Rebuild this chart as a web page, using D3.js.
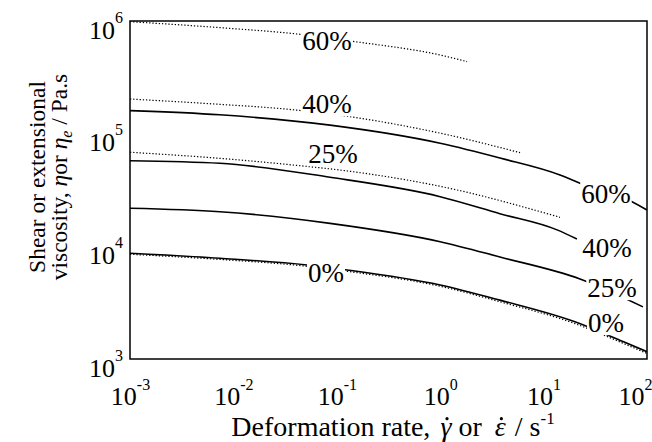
<!DOCTYPE html>
<html>
<head>
<meta charset="utf-8">
<script src="https://cdn.jsdelivr.net/npm/d3@7"></script>
<style>
  body { margin: 0; background: #fff; }
</style>
</head>
<body>
<svg id="chart"></svg>
<script>
// [deformation rate (1/s), viscosity (Pa.s)]
// solid = shear, dotted = extensional
const shear60 = [[1e-3, 1.6e5], [7.4e-3, 1.47e5], [0.086, 1.19e5], [1, 8.22e4], [3.78, 6.08e4], [14.4, 4.3e4], [22.5, 3.63e4], [71.6, 2.49e4], [100, 2.1e4]];
const shear40 = [[1e-3, 5.75e4], [7.4e-3, 5.46e4], [0.086, 4.1e4], [1, 2.76e4], [3.78, 1.95e4], [13.5, 1.4e4], [21, 1.16e4]];
const shear25 = [[1e-3, 2.18e4], [7.4e-3, 2.03e4], [0.086, 1.6e4], [1, 1.1e4], [3.78, 8.04e3], [22.5, 5.13e3], [91.4, 2.9e3]];
const shear0 = [[1e-3, 8.67e3], [7.4e-3, 7.83e3], [0.0515, 6.83e3], [0.126, 6.17e3], [1, 4.54e3], [3.78, 3.33e3], [20.1, 2.14e3], [58.6, 1.43e3], [100, 1.16e3]];

const ext60 = [[1e-3, 9.86e5], [7.4e-3, 8.73e5], [0.044, 7.62e5], [0.15, 6.56e5], [1, 4.99e5], [1.82, 4.36e5]];
const ext40 = [[1e-3, 2.03e5], [7.4e-3, 1.82e5], [0.033, 1.65e5], [0.144, 1.4e5], [1, 1.01e5], [5.92, 6.78e4]];
const ext25 = [[1e-3, 6.84e4], [7.4e-3, 6.04e4], [0.0377, 5.27e4], [0.128, 4.66e4], [1, 3.41e4], [14.4, 1.81e4]];
const ext0 = [[1e-3, 8.5e3], [7.4e-3, 7.65e3], [0.0515, 6.65e3], [0.126, 6.0e3], [1, 4.42e3], [3.78, 3.22e3], [20.1, 2.06e3], [58.6, 1.38e3], [100, 1.12e3]];

// contour-style labels, placed at [rate, viscosity]
const labelText = ["60%", "40%", "25%", "0%", "60%", "40%", "25%", "0%"];
const labelRate = [0.0804, 0.0804, 0.0918, 0.0787, 40.1, 41.0, 45.9, 40.1];
const labelVisc = [6.64e5, 1.83e5, 6.61e4, 5.8e3, 2.94e4, 9.77e3, 4.27e3, 2.09e3];

const xTickExp = [-3, -2, -1, 0, 1, 2];
const yTickExp = [3, 4, 5, 6];

const width = 652;
const height = 442;
const margin = { top: 21, right: 5, bottom: 83, left: 130 };
const font = "'Liberation Serif', 'Times New Roman', serif";

const svg = d3.select("#chart").attr("width", width).attr("height", height);

const x = d3.scaleLog().domain([1e-3, 1e2]).range([margin.left, width - margin.right]);
const y = d3.scaleLog().domain([1e3, 1e6]).range([height - margin.bottom, margin.top]);

svg.append("defs").append("clipPath").attr("id", "plot-clip")
  .append("rect")
  .attr("x", margin.left).attr("y", margin.top)
  .attr("width", x.range()[1] - x.range()[0])
  .attr("height", y.range()[0] - y.range()[1]);

const line = d3.line()
  .x(d => x(d[0]))
  .y(d => y(d[1]))
  .curve(d3.curveMonotoneX);

const curves = svg.append("g").attr("clip-path", "url(#plot-clip)");

[shear60, shear40, shear25, shear0].forEach(d => {
  curves.append("path")
    .datum(d)
    .attr("d", line)
    .attr("fill", "none")
    .attr("stroke", "#000")
    .attr("stroke-width", 1.6);
});

[ext60, ext40, ext25, ext0].forEach(d => {
  curves.append("path")
    .datum(d)
    .attr("d", line)
    .attr("fill", "none")
    .attr("stroke", "#000")
    .attr("stroke-width", 1.2)
    .attr("stroke-dasharray", "1.3,1.9");
});

// labels with white boxes that break the lines
const labelG = svg.append("g");
labelText.forEach((t, i) => {
  const g = labelG.append("g");
  const txt = g.append("text")
    .attr("x", x(labelRate[i]))
    .attr("y", y(labelVisc[i]))
    .attr("dy", "0.34em")
    .attr("text-anchor", "middle")
    .attr("font-family", font)
    .attr("font-size", 27)
    .text(t);
  const bb = txt.node().getBBox();
  g.insert("rect", "text")
    .attr("x", bb.x - 1)
    .attr("y", bb.y + 3)
    .attr("width", bb.width + 2)
    .attr("height", bb.height - 6)
    .attr("fill", "#fff");
});

// frame
svg.append("rect")
  .attr("x", margin.left).attr("y", margin.top)
  .attr("width", x.range()[1] - x.range()[0])
  .attr("height", y.range()[0] - y.range()[1])
  .attr("fill", "none")
  .attr("stroke", "#000")
  .attr("stroke-width", 1.5);

// axes: only labels, no tick marks
const xAxis = d3.axisBottom(x)
  .tickValues(xTickExp.map(e => Math.pow(10, e)))
  .tickSize(0)
  .tickFormat("");

const xAxisG = svg.append("g")
  .attr("transform", `translate(0,${height - margin.bottom})`)
  .call(xAxis);
xAxisG.select(".domain").remove();
xAxisG.attr("font-family", font);

xAxisG.selectAll(".tick text").each(function (d, i) {
  const t = d3.select(this)
    .attr("y", 46)
    .attr("dy", null)
    .attr("font-size", 26)
    .attr("fill", "#000");
  t.append("tspan").text("10");
  t.append("tspan").attr("font-size", 16).attr("dy", -15).text(xTickExp[i]);
  // keep the last label inside the picture
  const bb = this.getBBox();
  const over = x(d) + bb.x + bb.width - width;
  if (over > 0) t.attr("x", -over);
});

const yAxis = d3.axisLeft(y)
  .tickValues(yTickExp.map(e => Math.pow(10, e)))
  .tickSize(0)
  .tickFormat("");

const yAxisG = svg.append("g")
  .attr("transform", `translate(${margin.left},0)`)
  .call(yAxis);
yAxisG.select(".domain").remove();
yAxisG.attr("font-family", font);

yAxisG.selectAll(".tick text").each(function (d, i) {
  const t = d3.select(this)
    .attr("x", -7)
    .attr("y", 17)
    .attr("dy", null)
    .attr("font-size", 26)
    .attr("fill", "#000");
  t.append("tspan").text("10");
  t.append("tspan").attr("font-size", 16).attr("dy", -16).text(yTickExp[i]);
});

// x title
const xTitleSize = 28;
const xTitleY = 436;
const xt = svg.append("text")
  .attr("x", 393)
  .attr("y", xTitleY)
  .attr("text-anchor", "middle")
  .attr("font-family", font)
  .attr("font-size", xTitleSize);
xt.append("tspan").text("Deformation rate, ");
xt.append("tspan").attr("font-style", "italic").attr("dx", 3).text("\u03B3");
xt.append("tspan").text(" or ");
xt.append("tspan").attr("font-style", "italic").attr("dx", 6).text("\u03B5");
xt.append("tspan").attr("dx", 2).text(" / s");
xt.append("tspan").attr("font-size", 17).attr("dy", -12).text("-1");

// overdots on gamma and epsilon
const txtStr = xt.text();
[txtStr.indexOf("\u03B3"), txtStr.indexOf("\u03B5")].forEach(idx => {
  const ext = xt.node().getExtentOfChar(idx);
  svg.append("circle")
    .attr("cx", ext.x + ext.width * 0.6)
    .attr("cy", xTitleY - xTitleSize * 0.62)
    .attr("r", 1.6)
    .attr("fill", "#000");
});

// y title, two lines
const yt = svg.append("g")
  .attr("transform", "translate(0,177) rotate(-90)")
  .attr("font-family", font)
  .attr("font-size", 23.5)
  .attr("text-anchor", "middle");

yt.append("text").attr("x", 0).attr("y", 45).text("Shear or extensional");

const yt2 = yt.append("text").attr("x", 0).attr("y", 67);
yt2.append("tspan").text("viscosity, ");
yt2.append("tspan").attr("font-style", "italic").text("\u03B7");
yt2.append("tspan").text("or ");
yt2.append("tspan").attr("font-style", "italic").text("\u03B7");
yt2.append("tspan").attr("font-style", "italic").attr("font-size", 16).attr("dy", 5).text("e");
yt2.append("tspan").attr("dy", -5).text(" / Pa.s");
</script>
</body>
</html>
